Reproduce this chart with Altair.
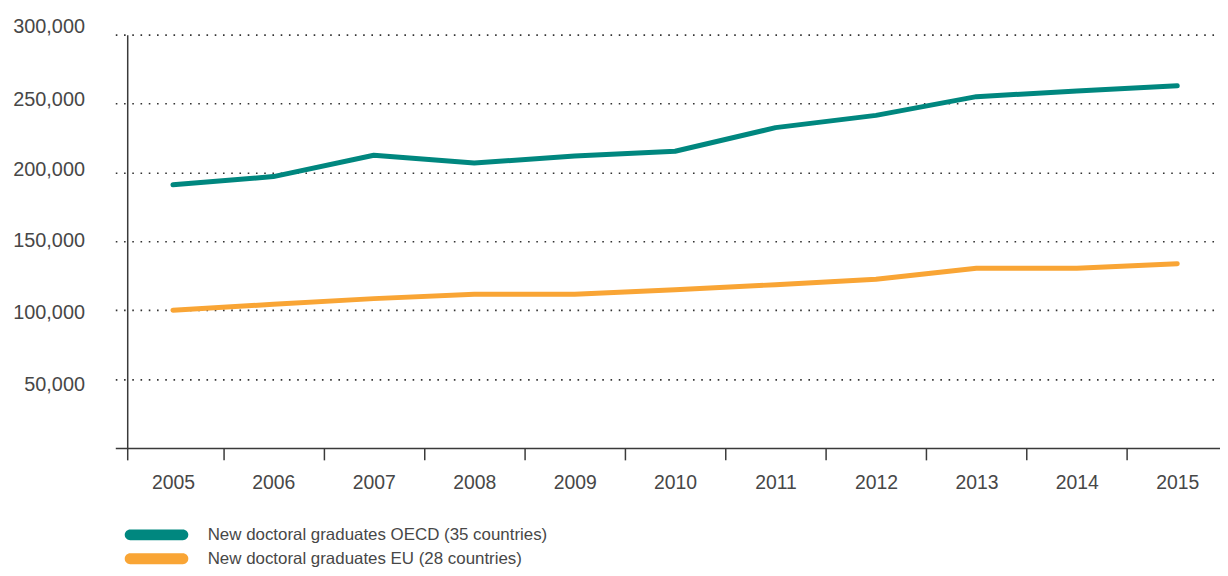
import altair as alt
import pandas as pd

years = list(range(2005, 2016))
oecd = [191000, 197000, 212500, 206800, 212000, 215400, 232500, 241400, 255000, 259100, 262900]
eu = [100000, 104300, 108400, 111500, 111500, 114900, 118500, 122400, 130500, 130500, 133700]
series_names = ["New doctoral graduates OECD (35 countries)",
                "New doctoral graduates EU (28 countries)"]
series_colors = ["#00877f", "#f9a535"]
y_ticks = [50000, 100000, 150000, 200000, 250000, 300000]
y_label_shift = [5.5, 2, -1, -2.5, -4.5, -8]
x_domain = [2004.4263, 2015.4253]
x_tick_marks = [2004.545] + [y + 0.5 for y in years[:-1]]

rows = []
for i, yr in enumerate(years):
    rows.append({"year": yr, "value": oecd[i], "series": series_names[0]})
    rows.append({"year": yr, "value": eu[i], "series": series_names[1]})
df = pd.DataFrame(rows)

FONT = "Liberation Sans"
AX = "#3a3a3a"
TXT = "#474747"
PILL = "M-5.3,-1.1 L5.3,-1.1 A1.1,1.1 0 0 1 5.3,1.1 L-5.3,1.1 A1.1,1.1 0 0 1 -5.3,-1.1 Z"

xscale = alt.Scale(domain=x_domain, nice=False, zero=False)
cscale = alt.Scale(domain=series_names, range=series_colors)

y_offset_cond = {
    "condition": [{"test": f"datum.value == {v}", "value": s} for v, s in zip(y_ticks, y_label_shift)],
    "value": 0,
}

legend = alt.Legend(title=None, orient="none", legendX=33, legendY=495,
                    padding=0, symbolType=PILL, symbolSize=100,
                    symbolStrokeWidth=0, symbolOpacity=1,
                    labelFont=FONT, labelFontSize=17, labelLimit=800,
                    labelColor=TXT, labelOffset=43, rowPadding=6)

guides = alt.Chart(df).mark_point(filled=True, size=0, opacity=1).encode(
    x=alt.X("year:Q", scale=xscale,
            axis=alt.Axis(values=x_tick_marks, title=None, orient="bottom", labels=False,
                          domain=False, grid=False, ticks=True, tickSize=12,
                          tickColor=AX, tickWidth=1.5)),
    color=alt.Color("series:N", scale=cscale, sort=series_names, legend=legend),
)

lines = alt.Chart(df).mark_line(strokeWidth=5, strokeCap="round", strokeJoin="round").encode(
    x=alt.X("year:Q", scale=xscale,
            axis=alt.Axis(values=years, labelExpr="'' + datum.value", title=None, orient="bottom",
                          ticks=False, grid=False, domain=True, domainColor=AX,
                          domainWidth=1.5, labelFont=FONT, labelFontSize=19.5,
                          labelColor=TXT, labelPadding=26, labelBaseline="top",
                          labelAlign="center")),
    y=alt.Y("value:Q", scale=alt.Scale(domain=[0, 300000], nice=False),
            axis=alt.Axis(values=y_ticks, labelExpr="format(datum.value, ',')", title=None,
                          offset=-12, ticks=False, grid=True, gridDash=[1.6, 6.7],
                          gridColor="#333", gridWidth=1.6, domain=True, domainColor=AX,
                          domainWidth=1.5, labelFont=FONT, labelFontSize=20,
                          labelColor=TXT, labelPadding=43, labelBaseline="middle",
                          labelOffset=y_offset_cond)),
    color=alt.Color("series:N", scale=cscale, sort=series_names, legend=legend),
)

chart = alt.layer(guides, lines).resolve_axis(x="independent").properties(
    width=1112, height=416,
    autosize=alt.AutoSizeParams(type="none"),
    padding={"left": 108, "top": 25, "right": 0, "bottom": 119},
).configure_view(stroke=None)

chart.save("out.html", embed_options={"renderer": "svg", "actions": False})
